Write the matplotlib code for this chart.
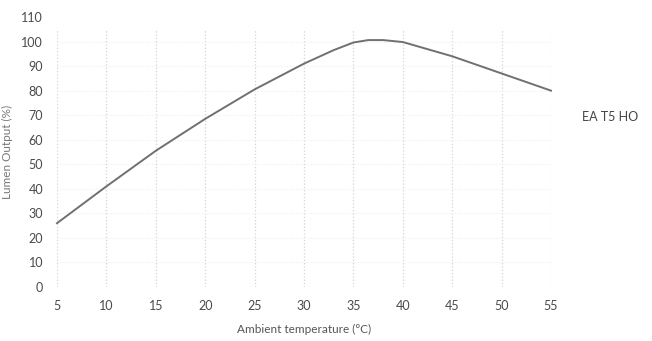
import matplotlib
matplotlib.use("Agg")
import matplotlib.pyplot as plt

# lumen output vs ambient temperature
temps = [5, 10, 15, 20, 25, 30, 33, 35, 36.5, 38, 40, 45, 50, 55]
lumen = [26, 41, 55.5, 68.5, 80.5, 91, 96.5, 99.6, 100.6, 100.6, 99.8, 94, 87, 80]

xticks = [5, 10, 15, 20, 25, 30, 35, 40, 45, 50, 55]
yticks = [0, 10, 20, 30, 40, 50, 60, 70, 80, 90, 100, 110]
series_name = "EA T5 HO"

plt.rcParams['font.family'] = ['Lato', 'DejaVu Sans']

fig = plt.figure(figsize=(6.52, 3.41), dpi=100)
ax = fig.add_axes([57/652, 54/341, 494/652, 270/341])

# faint dotted grid like the scan
for x in xticks:
    ax.plot([x, x], [0, 105], ls=':', color='#d4d4d4', lw=0.9, zorder=1)
for y in yticks[:-1]:
    ax.plot([5, 55], [y, y], ls=':', color='#eeeeee', lw=0.8, zorder=1)

ax.plot(temps, lumen, color='#707070', lw=1.4, zorder=3, clip_on=False)

ax.set_xlim(5, 55)
ax.set_ylim(0, 110)
ax.set_xticks(xticks)
ax.set_yticks(yticks)
ax.tick_params(length=0, labelsize=9, colors='#4a4a4a')
ax.tick_params(axis='x', pad=9)
ax.tick_params(axis='y', pad=10)
for s in ax.spines.values():
    s.set_visible(False)

ax.set_xlabel("Ambient temperature (°C)", fontsize=8.5, color='#555555', labelpad=9)
ax.set_ylabel("Lumen Output (%)", fontsize=8.5, color='#777777', labelpad=6)

fig.text(582/652, 1 - 117/341, series_name, fontsize=9, color='#444444',
         ha='left', va='center')

fig.savefig("out.png", dpi=100)
